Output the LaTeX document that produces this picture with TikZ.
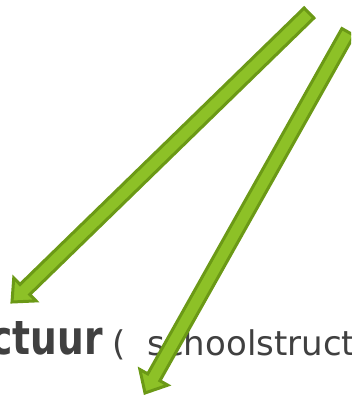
\documentclass[tikz,border=0pt]{standalone}
\usepackage{fontspec}
\usepackage{graphicx}
\setmainfont{DejaVu Sans}
\usetikzlibrary{calc}
\definecolor{arrfill}{RGB}{141,193,39}
\definecolor{arrline}{RGB}{107,153,22}
\definecolor{txt}{RGB}{64,64,64}
\tikzset{
  blockarrow/.style={fill=arrfill, draw=arrline, line width=3pt, line join=miter},
  labeltext/.style={anchor=base west, inner sep=0pt, text=txt},
}
\newcommand{\blockarr}[2]{%
  \draw[blockarrow] (#2)
    -- ($($(#2)!18pt!(#1)$)!16pt!90:(#1)$)
    -- ($($(#2)!18pt!(#1)$)!7pt!90:(#1)$)
    -- ($(#1)!7pt!-90:(#2)$)
    -- ($(#1)!7pt!90:(#2)$)
    -- ($($(#2)!18pt!(#1)$)!7pt!-90:(#1)$)
    -- ($($(#2)!18pt!(#1)$)!16pt!-90:(#1)$)
    -- cycle;}
\begin{document}
\begin{tikzpicture}[x=1pt,y=-1pt]
\useasboundingbox (0,0) rectangle (351,398);
\clip (0,0) rectangle (351,398);
\node[labeltext] (bold) at (-10,354)
  {\scalebox{0.8}[1]{\fontsize{47}{47}\selectfont\bfseries ctuur}};
\node[labeltext] (rest) at (112,355)
  {\fontsize{34}{34}\selectfont(\hspace{22pt}schoolstruct};
\coordinate (t1) at (309,13);
\coordinate (p1) at (12,302);
\coordinate (t2) at (348,32);
\coordinate (p2) at (145,393);
\blockarr{t1}{p1}
\blockarr{t2}{p2}
\end{tikzpicture}
\end{document}
